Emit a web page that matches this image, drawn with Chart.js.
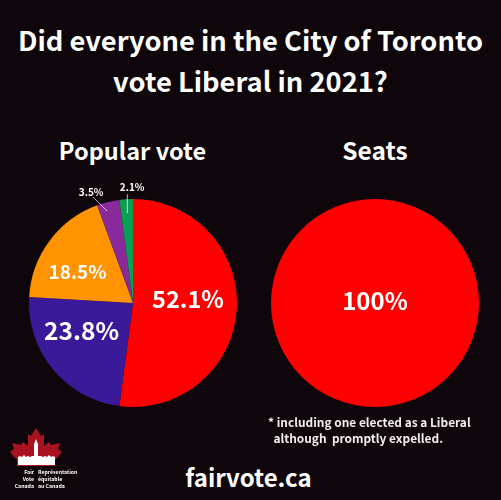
<!DOCTYPE html>
<html><head><meta charset="utf-8">
<script src="https://cdn.jsdelivr.net/npm/chart.js@4"></script>
<style>
html,body{margin:0;padding:0;background:#0e060b;}
#page{position:relative;width:501px;height:500px;overflow:hidden;background:#0e060b;color:#fff;font-family:"Noto Sans CJK SC","Noto Sans",sans-serif;font-weight:700;}
.t{position:absolute;white-space:pre;text-align:center;}
canvas{position:absolute;}
</style></head><body>
<div id="page">
<div class="t" style="left:0;width:501px;top:19px;font-size:27.3px;line-height:41px;">Did everyone in the City of Toronto
vote Liberal in 2021?</div>
<div class="t" style="left:0;width:265px;top:134px;font-size:23.5px;line-height:32px;">Popular vote</div>
<div class="t" style="left:250px;width:250px;top:134px;font-size:24.5px;line-height:32px;">Seats</div>
<div style="position:absolute;left:0;top:0;"><canvas id="c1"></canvas></div>
<div style="position:absolute;left:0;top:0;"><canvas id="c2"></canvas></div>
<div class="t" style="left:268px;top:414px;font-size:11.9px;line-height:16px;text-align:left;color:#f2f0f0;">* including one elected as a Liberal
  although  promptly expelled.</div>
<div class="t" style="left:0;width:497px;top:460px;font-size:24px;line-height:34px;">fairvote.ca</div>
<svg style="position:absolute;left:0;top:0" width="90" height="500" viewBox="0 0 90 500">
<path fill="#a8131f" d="M36 428 L41 436 L44 434 L44 446 L49 442 L51 445 L60 443 L58 449 L62 452 L55 460 L55 466 L17 466 L17 460 L10 452 L14 449 L12 443 L21 445 L23 442 L28 446 L28 434 L31 436 Z"/>
<path fill="#fff" d="M18 465 L18 457 L20 456 L22 457 L24 455 L26 457 L28 456 L30 457 L32 456 L34 456 L34 444 L36 439 L38 444 L38 456 L41 456 L43 457 L45 456 L47 457 L49 455 L51 457 L53 456 L55 457 L55 465 Z"/>
</svg>
<div class="t" style="left:9px;top:469px;width:25px;text-align:right;font-size:5.2px;line-height:6.8px;">Fair
Vote
Canada</div>
<div class="t" style="left:38px;top:469px;text-align:left;font-size:5.2px;line-height:6.8px;">Représentation
équitable
au Canada</div>
</div>
<script>
const voteCategories = ['Liberal','Conservative','NDP','Green','PPC'];
const voteValues = [52.1,23.8,18.5,3.5,2.1];
const voteLabels = ['52.1%','23.8%','18.5%','3.5%','2.1%'];
const voteColors = ['#ff0000','#3a1a98','#ff9400','#8a2a9a','#0aa050'];
const voteFontSizes = [23.5,24.5,19,10,10];
const voteRadial = [0.53,0.68,0.64,1,1];
const voteNudges = [[0,-8],[3,-17],[-2,8],[-17,-10],[6,-12]];
const voteLeaders = [null,null,null,[[-1,9],[-15,-5]],[[1.2,14],[1.2,-5]]];
const seatCategories = ['Liberal'];
const seatValues = [100];
const seatLabels = ['100%'];
const seatColors = ['#ff0000'];

const labelPlugin = {
  id:'sliceLabels',
  afterDatasetsDraw(chart, a, opts){
    const ctx = chart.ctx, meta = chart.getDatasetMeta(0);
    meta.data.forEach((arc,i)=>{
      const p = arc.getProps(['x','y','startAngle','endAngle','outerRadius'],true);
      const mid = (p.startAngle+p.endAngle)/2;
      const k = opts.radial[i];
      const dx = Math.cos(mid), dy = Math.sin(mid);
      const x = p.x+dx*p.outerRadius*k+opts.nudges[i][0], y = p.y+dy*p.outerRadius*k+opts.nudges[i][1];
      const ld = opts.leaders && opts.leaders[i];
      if(ld){
        const ox = p.x+dx*p.outerRadius, oy = p.y+dy*p.outerRadius;
        ctx.save();
        ctx.strokeStyle = 'rgba(255,255,255,0.7)';
        ctx.lineWidth = 1;
        ctx.beginPath();
        ctx.moveTo(ox+ld[0][0], oy+ld[0][1]);
        ctx.lineTo(ox+ld[1][0], oy+ld[1][1]);
        ctx.stroke();
        ctx.restore();
      }
      ctx.save();
      ctx.fillStyle = '#fff';
      ctx.font = '700 '+opts.sizes[i]+'px "Noto Sans CJK SC"';
      ctx.textAlign='center'; ctx.textBaseline='middle';
      ctx.fillText(opts.labels[i], x, y);
      ctx.restore();
    });
  }
};
const pad = 24;
function mk(id,labels,data,colors,left,top,size,pl){
  const c = document.getElementById(id);
  const s = size+2*pad;
  c.parentNode.style.left=(left-pad)+'px'; c.parentNode.style.top=(top-pad)+'px';
  c.parentNode.style.width=s+'px'; c.parentNode.style.height=s+'px';
  return new Chart(c,{type:'pie',data:{labels,datasets:[{data,backgroundColor:colors,borderWidth:0}]},
    options:{responsive:true,maintainAspectRatio:true,animation:false,layout:{padding:pad},
      plugins:{legend:{display:false},tooltip:{enabled:false},sliceLabels:pl}},plugins:[labelPlugin]});
}
mk('c1',voteCategories,voteValues,voteColors,29,199,208,{labels:voteLabels,sizes:voteFontSizes,radial:voteRadial,nudges:voteNudges,leaders:voteLeaders});
mk('c2',seatCategories,seatValues,seatColors,271,199,208,{labels:seatLabels,sizes:[24],radial:[0],nudges:[[0,-2]]});
</script>
</body></html>
